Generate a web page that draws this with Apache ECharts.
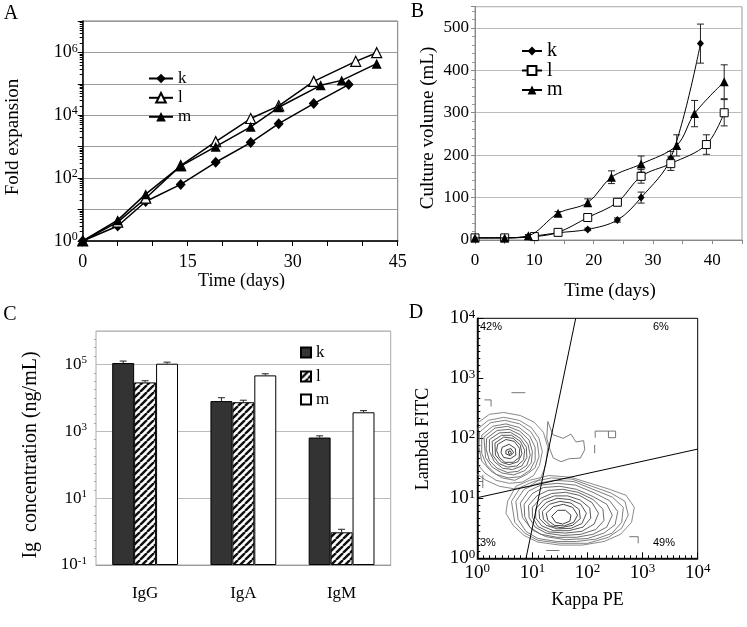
<!DOCTYPE html>
<html><head><meta charset="utf-8">
<script src="https://cdn.jsdelivr.net/npm/echarts@6/dist/echarts.min.js"></script>
<style>html,body{margin:0;padding:0;background:#fff}#c{width:747px;height:627px}</style>
</head><body><div id="c"></div>
<script>
// ---------- Panel A: fold expansion (log) ----------
const kDaysA = [0,5,9,14,19,24,28,33,38];
const kFoldA = [1,3,18,63,320,1350,5400,23500,95000];
const lDaysA = [0,5,9,14,19,24,28,33,39,42];
const lFoldA = [1,4,23,250,1450,7900,20000,120000,520000,980000];
const mDaysA = [0,5,9,14,19,24,28,34,37,42];
const mFoldA = [1,4.6,31,240,1000,4300,18000,90000,129000,440000];

// ---------- Panel B: culture volume (mL) ----------
const kDaysB = [0,5,9,14,19,24,28,33,38];
const kVolB  = [5,5,8,17,25,47,100,193,463];
const kErrB  = [2,2,2,2,3,5,13,16,46];
const lDaysB = [0,5,10,14,19,24,28,33,39,42];
const lVolB  = [5,5,8,18,53,89,150,180,225,300];
const lErrB  = [2,2,3,3,5,8,16,16,23,31];
const mDaysB = [0,5,9,14,19,23,28,34,37,42];
const mVolB  = [5,5,10,63,88,148,179,223,298,373];
const mErrB  = [2,2,3,4,9,15,19,25,31,40];

// ---------- Panel C: Ig concentration (ng/mL) ----------
const isotypes = ['IgG','IgA','IgM'];
const kConc = [110000, 8000, 650];
const kConcErr = [16000, 2100, 80];
const lConc = [29000, 7400, 0.95];
const lConcErr = [3500, 1100, 0.22];
const mConc = [105000, 47000, 3700];
const mConcErr = [12000, 5500, 450];
const cTicksExp = [-1, 1, 3, 5];

// ---------- Panel D: flow cytometry contours (decades, log10 units) ----------
const quadLineA = [[0.884,0],[1.786,4]];
const quadLineB = [[0,1.01],[4,1.82]];
const lambdaOpenRings = [
  [[0.00,2.25],[0.22,2.40],[0.48,2.43],[0.78,2.38],[1.03,2.27],[1.20,2.10],[1.28,1.85],[1.24,1.55],[1.15,1.33],[0.95,1.20],[0.66,1.16],[0.40,1.20],[0.16,1.30],[0.00,1.40]],
  [[0.00,2.15],[0.20,2.30],[0.48,2.35],[0.76,2.30],[0.98,2.18],[1.12,2.00],[1.18,1.78],[1.13,1.55],[1.02,1.38],[0.82,1.27],[0.58,1.25],[0.34,1.30],[0.14,1.42],[0.02,1.55]]
];
const lambdaRings = [
  [[0.04,2.10],[0.24,2.26],[0.50,2.30],[0.77,2.24],[0.97,2.11],[1.09,1.93],[1.12,1.70],[1.05,1.51],[0.90,1.40],[0.68,1.30],[0.45,1.34],[0.25,1.45],[0.08,1.62],[0.03,1.85]],
  [[0.08,2.05],[0.28,2.20],[0.52,2.24],[0.76,2.18],[0.95,2.04],[1.05,1.85],[1.05,1.63],[0.96,1.47],[0.78,1.36],[0.56,1.34],[0.34,1.40],[0.17,1.55],[0.08,1.75]],
  [[0.12,2.02],[0.32,2.17],[0.55,2.20],[0.77,2.12],[0.94,1.97],[1.00,1.78],[0.98,1.59],[0.86,1.46],[0.66,1.39],[0.45,1.42],[0.27,1.52],[0.15,1.68]],
  [[0.17,2.00],[0.36,2.13],[0.58,2.15],[0.78,2.06],[0.92,1.90],[0.96,1.72],[0.90,1.55],[0.74,1.45],[0.55,1.43],[0.36,1.50],[0.22,1.63],[0.16,1.82]],
  [[0.22,1.98],[0.40,2.09],[0.60,2.10],[0.78,2.00],[0.89,1.85],[0.90,1.68],[0.81,1.54],[0.64,1.48],[0.46,1.50],[0.31,1.61],[0.22,1.78]],
  [[0.27,1.95],[0.44,2.05],[0.62,2.05],[0.78,1.95],[0.86,1.80],[0.84,1.64],[0.72,1.54],[0.55,1.52],[0.39,1.58],[0.28,1.72]],
  [[0.32,1.92],[0.48,2.02],[0.65,2.00],[0.78,1.89],[0.81,1.74],[0.74,1.61],[0.58,1.56],[0.44,1.60],[0.33,1.72]],
  [[0.37,1.90],[0.52,1.98],[0.67,1.95],[0.77,1.83],[0.76,1.68],[0.65,1.60],[0.50,1.60],[0.40,1.68],[0.35,1.80]],
  [[0.45,1.85],[0.58,1.90],[0.69,1.83],[0.70,1.72],[0.60,1.66],[0.48,1.68],[0.43,1.76]],
  [[0.52,1.80],[0.61,1.83],[0.66,1.76],[0.60,1.71],[0.52,1.74]],
  [[0.56,1.78],[0.60,1.79],[0.62,1.75],[0.58,1.73]]
];
const kappaRings = [
  [[0.55,0.95],[0.70,1.20],[0.95,1.30],[1.30,1.38],[1.70,1.35],[2.05,1.25],[2.40,1.15],[2.70,1.05],[2.85,0.85],[2.80,0.60],[2.60,0.40],[2.30,0.28],[1.90,0.22],[1.50,0.22],[1.10,0.27],[0.85,0.38],[0.65,0.55],[0.52,0.75]],
  [[0.62,0.95],[0.78,1.18],[1.02,1.28],[1.35,1.34],[1.72,1.32],[2.08,1.20],[2.42,1.09],[2.68,0.95],[2.74,0.72],[2.62,0.50],[2.38,0.35],[2.00,0.25],[1.50,0.25],[1.10,0.30],[0.86,0.42],[0.68,0.60]],
  [[0.70,0.95],[0.85,1.15],[1.10,1.25],[1.40,1.30],[1.75,1.28],[2.10,1.15],[2.45,1.02],[2.65,0.85],[2.62,0.60],[2.45,0.42],[2.15,0.32],[1.80,0.28],[1.45,0.28],[1.10,0.33],[0.88,0.45],[0.74,0.65]],
  [[0.78,0.92],[0.93,1.12],[1.15,1.22],[1.45,1.25],[1.78,1.22],[2.10,1.10],[2.40,0.96],[2.55,0.78],[2.50,0.56],[2.30,0.42],[2.00,0.33],[1.60,0.31],[1.25,0.36],[1.00,0.47],[0.82,0.68]],
  [[0.85,0.90],[1.00,1.08],[1.20,1.18],[1.50,1.20],[1.80,1.15],[2.10,1.03],[2.35,0.90],[2.45,0.72],[2.35,0.52],[2.10,0.40],[1.80,0.35],[1.45,0.35],[1.15,0.40],[0.95,0.52],[0.86,0.70]],
  [[0.93,0.88],[1.08,1.04],[1.28,1.13],[1.55,1.15],[1.83,1.10],[2.10,0.98],[2.28,0.82],[2.30,0.63],[2.15,0.48],[1.88,0.40],[1.55,0.38],[1.25,0.42],[1.05,0.52],[0.94,0.68]],
  [[1.00,0.85],[1.15,1.00],[1.35,1.08],[1.60,1.10],[1.85,1.05],[2.08,0.93],[2.20,0.75],[2.12,0.57],[1.90,0.45],[1.60,0.42],[1.30,0.44],[1.10,0.53],[1.00,0.68]],
  [[1.06,0.82],[1.20,0.97],[1.40,1.04],[1.64,1.04],[1.87,0.97],[2.04,0.84],[2.06,0.67],[1.92,0.52],[1.66,0.46],[1.38,0.46],[1.17,0.54],[1.06,0.67]],
  [[1.12,0.80],[1.25,0.93],[1.45,1.00],[1.68,0.98],[1.88,0.90],[1.98,0.75],[1.90,0.58],[1.70,0.50],[1.45,0.49],[1.25,0.55],[1.13,0.66]],
  [[1.18,0.78],[1.31,0.90],[1.50,0.95],[1.70,0.92],[1.85,0.81],[1.87,0.66],[1.73,0.55],[1.52,0.51],[1.33,0.54],[1.20,0.65]],
  [[1.25,0.75],[1.38,0.86],[1.56,0.90],[1.73,0.85],[1.82,0.72],[1.75,0.60],[1.58,0.54],[1.40,0.55],[1.28,0.63]],
  [[1.35,0.70],[1.46,0.80],[1.60,0.80],[1.70,0.72],[1.68,0.62],[1.55,0.57],[1.42,0.60]]
];
const connectorRing = [[1.28,2.28],[1.37,2.06],[1.56,2.00],[1.70,2.07],[1.79,1.94],[1.93,1.96],[1.95,1.81],[1.87,1.67],[1.67,1.66],[1.52,1.61],[1.38,1.67],[1.32,1.81],[1.26,2.00]];
const fragments = [
  [[2.14,2.01],[2.14,2.12],[2.51,2.12],[2.51,2.01],[2.38,2.01],[2.38,2.12]],
  [[2.13,1.89],[2.13,1.75]],
  [[0.13,2.64],[0.25,2.64],[0.25,2.53]],
  [[0.62,2.76],[0.87,2.76]],
  [[0.10,1.39],[0.10,1.17]],
  [[0.01,1.28],[0.10,1.28]],
  [[1.25,0.13],[1.49,0.13]],
  [[2.76,0.36],[2.92,0.36],[2.92,0.25]]
];
const quadrantPct = ['42%','6%','3%','49%'];

// ---------- helpers ----------
const SERIF = 'Liberation Serif';
const zip = (xs, ys) => xs.map((x, i) => [x, ys[i]]);
const close = r => r.concat([r[0]]);
const grayAt = (i, n, from, to) => { const g = Math.round(from + (to - from) * (n > 1 ? i / (n - 1) : 0)); return 'rgb(' + g + ',' + g + ',' + g + ')'; };
function hatch() {
  const c = document.createElement('canvas'); c.width = 7; c.height = 7;
  const g = c.getContext('2d');
  g.fillStyle = '#fff'; g.fillRect(0, 0, 7, 7);
  g.strokeStyle = '#111'; g.lineWidth = 2.4; g.beginPath();
  for (let o = -7; o <= 7; o += 7) { g.moveTo(o, 7); g.lineTo(o + 7, 0); }
  g.stroke();
  return c;
}
const supRich = (big, small) => ({
  b: {fontFamily: SERIF, fontSize: big, color: '#000', lineHeight: big + 2},
  s: {fontFamily: SERIF, fontSize: small, color: '#000', verticalAlign: 'top', lineHeight: small}
});
function errRenderXY(params, api) {
  const x = api.value(0);
  const p1 = api.coord([x, api.value(1)]), p2 = api.coord([x, api.value(2)]);
  const w = 3.5, st = {stroke: '#222', lineWidth: 1};
  return {type: 'group', children: [
    {type: 'line', shape: {x1: p1[0], y1: p1[1], x2: p2[0], y2: p2[1]}, style: st},
    {type: 'line', shape: {x1: p1[0] - w, y1: p1[1], x2: p1[0] + w, y2: p1[1]}, style: st},
    {type: 'line', shape: {x1: p2[0] - w, y1: p2[1], x2: p2[0] + w, y2: p2[1]}, style: st}
  ]};
}
const CAT_GAP = 0.33;
function errRenderBar(slot) {
  return function (params, api) {
    const band = api.size([1, 0])[0];
    const bw = band * (1 - CAT_GAP) / 3;
    const c = api.value(0);
    const p1 = api.coord([c, api.value(1)]), p2 = api.coord([c, api.value(2)]);
    const x = p1[0] + (slot - 1) * bw;
    const w = 3.5, st = {stroke: '#222', lineWidth: 1};
    return {type: 'group', children: [
      {type: 'line', shape: {x1: x, y1: p1[1], x2: x, y2: p2[1]}, style: st},
      {type: 'line', shape: {x1: x - w, y1: p2[1], x2: x + w, y2: p2[1]}, style: st}
    ]};
  };
}
const lg = v => Math.log10(v) + 1; // panel C value-axis units (10^-1 at 0)
const errData = (xs, ys, es) => xs.map((x, i) => [x, ys[i] - es[i], ys[i] + es[i]]);
const barErrData = (vals, errs) => vals.map((v, i) => [i, lg(v), lg(v + errs[i])]);

const hatchImg = hatch();
const chart = echarts.init(document.getElementById('c'), null, {renderer: 'canvas'});

const lineStyleA = {color: '#000', width: 1.5};
const labelSerif = (size) => ({fontFamily: SERIF, fontSize: size, color: '#000'});

function oneLegend(name, left, top, w, h, fontSize, extra) {
  return Object.assign({data: [name], left: left, top: top, padding: 0, itemWidth: w, itemHeight: h,
    selectedMode: false, formatter: n => n.split('-')[1], textStyle: labelSerif(fontSize)}, extra || {});
}

const option = {
  backgroundColor: '#fff',
  animation: false,
  grid: [
    {left: 82.7, top: 21, width: 315, height: 220, show: true, borderColor: '#777', borderWidth: 1},
    {left: 475, top: 6.7, width: 267, height: 233.3, show: true, borderColor: '#999', borderWidth: 1},
    {left: 96, top: 331, width: 294.7, height: 234, show: true, borderColor: '#aaa', borderWidth: 1},
    {left: 477.3, top: 318.3, width: 220.4, height: 240, show: true, borderColor: '#000', borderWidth: 1}
  ],
  xAxis: [
    {gridIndex: 0, type: 'value', min: 0, max: 45, interval: 5,
     axisLine: {lineStyle: {color: '#000', width: 1.5}},
     axisTick: {length: 5, lineStyle: {color: '#000'}},
     axisLabel: Object.assign({margin: 12, formatter: v => (v % 15 === 0 ? String(v) : '')}, labelSerif(18)),
     splitLine: {show: false}},
    {gridIndex: 1, type: 'value', min: 0, max: 45, interval: 5,
     axisLine: {lineStyle: {color: '#888'}},
     axisTick: {length: 4, lineStyle: {color: '#888'}},
     axisLabel: Object.assign({margin: 12, formatter: v => (v % 10 === 0 ? String(v) : '')}, labelSerif(17)),
     splitLine: {show: false}},
    {gridIndex: 2, type: 'category', data: isotypes,
     axisLine: {lineStyle: {color: '#999'}},
     axisTick: {length: 5, lineStyle: {color: '#999'}},
     axisLabel: Object.assign({margin: 20}, labelSerif(17)),
     splitLine: {show: false}},
    {gridIndex: 3, type: 'value', min: 0, max: 4, interval: 1,
     axisLine: {lineStyle: {color: '#000', width: 1.5}},
     axisTick: {inside: true, length: 6, lineStyle: {color: '#000'}},
     minorTick: {show: true, splitNumber: 9, length: 3, lineStyle: {color: '#000'}},
     axisLabel: {margin: 4, formatter: v => '{b|10}{s|' + v + '}', rich: supRich(19, 13)},
     splitLine: {show: false}}
  ],
  yAxis: [
    {gridIndex: 0, type: 'log', logBase: 10, min: 1, max: 1e7,
     axisLine: {lineStyle: {color: '#000', width: 1.5}},
     axisTick: {length: 5, lineStyle: {color: '#000'}},
     minorTick: {show: true, splitNumber: 9, length: 3, lineStyle: {color: '#000'}},
     splitLine: {lineStyle: {color: '#999'}},
     axisLabel: {margin: 5, formatter: v => { const e = Math.round(Math.log10(v)); return (e % 2 === 0 && e < 7) ? '{b|10}{s|' + e + '}' : ''; }, rich: supRich(18, 12)}},
    {gridIndex: 1, type: 'value', min: 0, max: 550, interval: 100,
     axisLine: {lineStyle: {color: '#888'}},
     axisTick: {length: 4, lineStyle: {color: '#888'}},
     minorTick: {show: true, splitNumber: 5, length: 3, lineStyle: {color: '#999'}},
     splitLine: {lineStyle: {color: '#bbb'}},
     axisLabel: Object.assign({margin: 6, showMaxLabel: false, formatter: v => (v % 100 === 0 ? String(v) : '')}, labelSerif(17))},
    {gridIndex: 2, type: 'value', min: 0, max: 7, interval: 2,
     axisLine: {lineStyle: {color: '#999'}},
     axisTick: {length: 4, lineStyle: {color: '#999'}},
     minorTick: {show: true, splitNumber: 8, length: 2, lineStyle: {color: '#aaa'}},
     splitLine: {lineStyle: {color: '#bbb'}},
     axisLabel: {margin: 9, showMaxLabel: false, formatter: v => (cTicksExp.indexOf(v - 1) >= 0 ? '{b|10}{s|' + (v - 1) + '}' : ''), rich: supRich(17, 11)}},
    {gridIndex: 3, type: 'value', min: 0, max: 4, interval: 1,
     axisLine: {lineStyle: {color: '#000', width: 1.5}},
     axisTick: {inside: true, length: 6, lineStyle: {color: '#000'}},
     minorTick: {show: true, splitNumber: 9, length: 3, lineStyle: {color: '#000'}},
     axisLabel: {margin: 2, formatter: v => '{b|10}{s|' + v + '}', rich: supRich(19, 13)},
     splitLine: {show: false}}
  ],
  legend: [
    oneLegend('A-k', 148, 70, 24, 12, 17),
    oneLegend('A-l', 148, 89.3, 24, 12, 17),
    oneLegend('A-m', 148, 108.3, 24, 12, 17),
    oneLegend('B-k', 521, 41, 20, 11, 20),
    oneLegend('B-l', 521, 60.5, 20, 11, 20),
    oneLegend('B-m', 521, 80, 20, 11, 20),
    oneLegend('C-k', 300, 344, 10, 10, 17, {icon: 'rect'}),
    oneLegend('C-l', 300, 368, 10, 10, 17, {icon: 'rect'}),
    oneLegend('C-m', 300, 391, 10, 10, 17, {icon: 'rect'})
  ],
  series: [
    // Panel A
    {name: 'A-k', type: 'line', xAxisIndex: 0, yAxisIndex: 0, data: zip(kDaysA, kFoldA), symbol: 'diamond', symbolSize: [10, 11],
     lineStyle: lineStyleA, itemStyle: {color: '#000'}, z: 3},
    {name: 'A-l', type: 'line', xAxisIndex: 0, yAxisIndex: 0, data: zip(lDaysA, lFoldA), symbol: 'triangle', symbolSize: 10,
     lineStyle: lineStyleA, itemStyle: {color: '#fff', borderColor: '#000', borderWidth: 1.2}, z: 4},
    {name: 'A-m', type: 'line', xAxisIndex: 0, yAxisIndex: 0, data: zip(mDaysA, mFoldA), symbol: 'triangle', symbolSize: 10,
     lineStyle: lineStyleA, itemStyle: {color: '#000'}, z: 5},
    // Panel B error bars
    {type: 'custom', xAxisIndex: 1, yAxisIndex: 1, renderItem: errRenderXY, data: errData(kDaysB, kVolB, kErrB), encode: {x: 0, y: [1, 2]}, z: 2, silent: true},
    {type: 'custom', xAxisIndex: 1, yAxisIndex: 1, renderItem: errRenderXY, data: errData(lDaysB, lVolB, lErrB), encode: {x: 0, y: [1, 2]}, z: 2, silent: true},
    {type: 'custom', xAxisIndex: 1, yAxisIndex: 1, renderItem: errRenderXY, data: errData(mDaysB, mVolB, mErrB), encode: {x: 0, y: [1, 2]}, z: 2, silent: true},
    // Panel B lines
    {name: 'B-k', type: 'line', xAxisIndex: 1, yAxisIndex: 1, data: zip(kDaysB, kVolB), smooth: 0.35, symbol: 'diamond', symbolSize: [7, 8],
     lineStyle: {color: '#000', width: 1}, itemStyle: {color: '#000'}, z: 3},
    {name: 'B-l', type: 'line', xAxisIndex: 1, yAxisIndex: 1, data: zip(lDaysB, lVolB), smooth: 0.35, symbol: 'rect', symbolSize: 8,
     lineStyle: {color: '#000', width: 1}, itemStyle: {color: '#fff', borderColor: '#000', borderWidth: 1}, z: 4},
    {name: 'B-m', type: 'line', xAxisIndex: 1, yAxisIndex: 1, data: zip(mDaysB, mVolB), smooth: 0.35, symbol: 'triangle', symbolSize: 9,
     lineStyle: {color: '#000', width: 1}, itemStyle: {color: '#000'}, z: 5},
    // Panel C bars
    {name: 'C-k', type: 'bar', xAxisIndex: 2, yAxisIndex: 2, data: kConc.map(lg), barGap: '0%', barCategoryGap: '33%',
     itemStyle: {color: '#333', borderColor: '#000', borderWidth: 1}},
    {name: 'C-l', type: 'bar', xAxisIndex: 2, yAxisIndex: 2, data: lConc.map(lg), barGap: '0%', barCategoryGap: '33%',
     itemStyle: {color: {image: hatchImg, repeat: 'repeat'}, borderColor: '#000', borderWidth: 1}},
    {name: 'C-m', type: 'bar', xAxisIndex: 2, yAxisIndex: 2, data: mConc.map(lg), barGap: '0%', barCategoryGap: '33%',
     itemStyle: {color: '#fff', borderColor: '#000', borderWidth: 1}},
    {type: 'custom', xAxisIndex: 2, yAxisIndex: 2, renderItem: errRenderBar(0), data: barErrData(kConc, kConcErr), encode: {x: 0, y: [1, 2]}, z: 4, silent: true},
    {type: 'custom', xAxisIndex: 2, yAxisIndex: 2, renderItem: errRenderBar(1), data: barErrData(lConc, lConcErr), encode: {x: 0, y: [1, 2]}, z: 4, silent: true},
    {type: 'custom', xAxisIndex: 2, yAxisIndex: 2, renderItem: errRenderBar(2), data: barErrData(mConc, mConcErr), encode: {x: 0, y: [1, 2]}, z: 4, silent: true},
    // Panel D contours
    {type: 'lines', coordinateSystem: 'cartesian2d', xAxisIndex: 3, yAxisIndex: 3, polyline: true, silent: true,
     lineStyle: {color: '#777', width: 0.9, opacity: 1},
     data: [].concat(
       lambdaOpenRings.map(r => ({coords: r, lineStyle: {color: '#7a7a7a'}})),
       lambdaRings.map((r, i) => ({coords: close(r), lineStyle: {color: grayAt(i, lambdaRings.length, 115, 30)}})),
       kappaRings.map((r, i) => ({coords: close(r), lineStyle: {color: grayAt(i, kappaRings.length, 125, 40)}})),
       [{coords: close(connectorRing), lineStyle: {color: '#707070'}}],
       fragments.map(r => ({coords: r, lineStyle: {color: '#666'}}))
     )},
    {type: 'line', xAxisIndex: 3, yAxisIndex: 3, data: quadLineA, showSymbol: false, lineStyle: {color: '#000', width: 1}, silent: true, z: 5},
    {type: 'line', xAxisIndex: 3, yAxisIndex: 3, data: quadLineB, showSymbol: false, lineStyle: {color: '#000', width: 1}, silent: true, z: 5}
  ],
  graphic: [
    {type: 'text', x: 11, y: 14, style: {text: 'A', font: '20px "Liberation Serif"', fill: '#000', textAlign: 'center', textVerticalAlign: 'middle'}},
    {type: 'text', x: 417.5, y: 12, style: {text: 'B', font: '20px "Liberation Serif"', fill: '#000', textAlign: 'center', textVerticalAlign: 'middle'}},
    {type: 'text', x: 10, y: 315, style: {text: 'C', font: '20px "Liberation Serif"', fill: '#000', textAlign: 'center', textVerticalAlign: 'middle'}},
    {type: 'text', x: 416, y: 313, style: {text: 'D', font: '20px "Liberation Serif"', fill: '#000', textAlign: 'center', textVerticalAlign: 'middle'}},
    {type: 'text', x: 13, y: 137, rotation: Math.PI / 2, style: {text: 'Fold expansion', font: '19px "Liberation Serif"', fill: '#000', textAlign: 'center', textVerticalAlign: 'middle'}},
    {type: 'text', x: 241.5, y: 281, style: {text: 'Time (days)', font: '18px "Liberation Serif"', fill: '#000', textAlign: 'center', textVerticalAlign: 'middle'}},
    {type: 'text', x: 428, y: 128, rotation: Math.PI / 2, style: {text: 'Culture volume (mL)', font: '19px "Liberation Serif"', fill: '#000', textAlign: 'center', textVerticalAlign: 'middle'}},
    {type: 'text', x: 610, y: 291, style: {text: 'Time (days)', font: '19px "Liberation Serif"', fill: '#000', textAlign: 'center', textVerticalAlign: 'middle'}},
    {type: 'text', x: 31, y: 455, rotation: Math.PI / 2, style: {text: 'Ig  concentration (ng/mL)', font: '20px "Liberation Serif"', fill: '#000', textAlign: 'center', textVerticalAlign: 'middle'}},
    {type: 'text', x: 587.5, y: 600, style: {text: 'Kappa PE', font: '18px "Liberation Serif"', fill: '#000', textAlign: 'center', textVerticalAlign: 'middle'}},
    {type: 'text', x: 423.5, y: 439, rotation: Math.PI / 2, style: {text: 'Lambda FITC', font: '18px "Liberation Serif"', fill: '#000', textAlign: 'center', textVerticalAlign: 'middle'}},
    {type: 'text', x: 480, y: 327, style: {text: quadrantPct[0], font: '11px "Liberation Sans"', fill: '#000', textAlign: 'left', textVerticalAlign: 'middle'}},
    {type: 'text', x: 653, y: 327, style: {text: quadrantPct[1], font: '11px "Liberation Sans"', fill: '#000', textAlign: 'left', textVerticalAlign: 'middle'}},
    {type: 'text', x: 480, y: 543, style: {text: quadrantPct[2], font: '11px "Liberation Sans"', fill: '#000', textAlign: 'left', textVerticalAlign: 'middle'}},
    {type: 'text', x: 653, y: 543, style: {text: quadrantPct[3], font: '11px "Liberation Sans"', fill: '#000', textAlign: 'left', textVerticalAlign: 'middle'}}
  ]
};
chart.setOption(option);
</script>
</body></html>
